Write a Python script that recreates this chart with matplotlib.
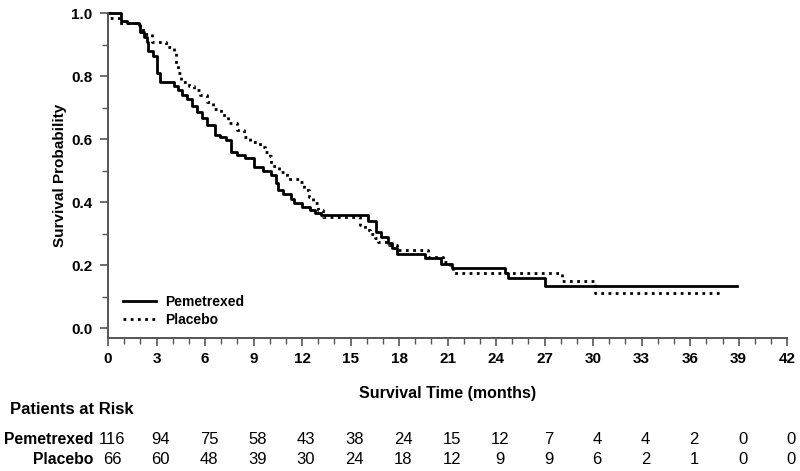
import matplotlib
matplotlib.use("Agg")
import matplotlib.pyplot as plt
from matplotlib.ticker import MultipleLocator

# Kaplan-Meier step data (time in months, survival after the step)
pem_t = [0, 0.8, 1.2, 1.9, 2.0, 2.2, 2.4, 2.5, 2.8, 3.05, 3.2, 4.1, 4.35, 4.55, 4.9,
         5.2, 5.5, 5.8, 6.1, 6.6, 6.9, 7.3, 7.6, 8.0, 8.5, 9.0, 9.6, 10.1, 10.4, 10.5,
         10.8, 11.3, 11.5, 12.0, 12.5, 12.8, 13.2, 16.1, 16.6, 16.9, 17.3, 17.55, 17.85,
         19.6, 20.6, 21.25, 24.55, 24.75, 27.0, 38.9]
pem_s = [1.0, 0.975, 0.968, 0.962, 0.94, 0.925, 0.91, 0.88, 0.865, 0.81, 0.78, 0.77, 0.755,
         0.74, 0.728, 0.705, 0.687, 0.666, 0.644, 0.613, 0.607, 0.597, 0.56, 0.549, 0.539,
         0.512, 0.50, 0.486, 0.46, 0.438, 0.425, 0.41, 0.396, 0.385, 0.375, 0.367, 0.359,
         0.34, 0.306, 0.288, 0.269, 0.253, 0.235, 0.224, 0.205, 0.191, 0.174, 0.158, 0.133,
         0.133]

pla_t = [0, 0.1, 0.7, 2.0, 2.15, 2.7, 3.6, 4.1, 4.2, 4.3, 4.5, 5.0, 5.3, 5.7, 6.1, 6.5,
         7.0, 7.45, 7.95, 8.4, 8.8, 9.4, 9.7, 10.0, 10.1, 10.6, 11.05, 11.8, 12.1, 12.4,
         12.7, 13.0, 13.3, 15.6, 15.9, 16.2, 16.5, 16.7, 17.4, 17.85, 19.8, 20.7, 21.15,
         21.35, 28.1, 30.1, 37.85]
pla_s = [1.0, 0.985, 0.97, 0.955, 0.935, 0.909, 0.893, 0.878, 0.84, 0.81, 0.78, 0.77, 0.756,
         0.74, 0.718, 0.697, 0.676, 0.65, 0.629, 0.607, 0.59, 0.575, 0.56, 0.545, 0.515,
         0.495, 0.475, 0.464, 0.438, 0.417, 0.396, 0.375, 0.353, 0.327, 0.311, 0.30, 0.285,
         0.274, 0.263, 0.248, 0.226, 0.21, 0.195, 0.174, 0.149, 0.11, 0.11]

risk_times = [0, 3, 6, 9, 12, 15, 18, 21, 24, 27, 30, 33, 36, 39, 42]
risk_pem = [116, 94, 75, 58, 43, 38, 24, 15, 12, 7, 4, 4, 2, 0, 0]
risk_pla = [66, 60, 48, 39, 30, 24, 18, 12, 9, 9, 6, 2, 1, 0, 0]

FONT = ['Liberation Sans Narrow', 'Liberation Sans', 'DejaVu Sans']
plt.rcParams['font.family'] = FONT

fig = plt.figure(figsize=(8, 4.71), dpi=100)
ax = fig.add_axes([0.135, 0.282, 0.849, 0.690])

ax.step(pem_t, pem_s, where='post', color='black', lw=2.0, label='Pemetrexed',
        clip_on=False)
ax.step(pla_t, pla_s, where='post', color='black', lw=2.0, linestyle=(0, (1, 1.6)),
        label='Placebo', clip_on=False)

ax.set_xlim(0, 42)
ax.set_ylim(-0.032, 1.0)
ax.xaxis.set_major_locator(MultipleLocator(3))
ax.xaxis.set_minor_locator(MultipleLocator(1))
ax.set_yticks([0.0, 0.2, 0.4, 0.6, 0.8, 1.0])
ax.set_yticklabels(['0.0', '0.2', '0.4', '0.6', '0.8', '1.0'])
ax.yaxis.set_minor_locator(MultipleLocator(0.1))

for s in ['top', 'right']:
    ax.spines[s].set_visible(False)
for s in ['left', 'bottom']:
    ax.spines[s].set_color('#555555')
    ax.spines[s].set_linewidth(1.4)
ax.spines['left'].set_bounds(-0.032, 1.0)

ax.tick_params(which='major', direction='out', length=6, width=1.2, color='#555555',
               labelsize=11)
ax.tick_params(which='minor', direction='out', length=4, width=1.0, color='#555555')
ax.tick_params(axis='x', pad=4)
ax.tick_params(axis='y', pad=5)
for lab in ax.get_xticklabels() + ax.get_yticklabels():
    lab.set_fontweight('bold')

ax.set_ylabel('Survival Probability', fontsize=11, fontweight='bold', labelpad=3)
ax.set_xlabel('Survival Time (months)', fontsize=11.5, fontweight='bold', labelpad=14)

leg = ax.legend(loc='lower left', bbox_to_anchor=(0.008, 0.005), frameon=False,
                handlelength=2.4, handletextpad=0.6, borderaxespad=0.3,
                labelspacing=0.25, prop={'weight': 'bold', 'size': 10, 'family': FONT})

# Patients at risk table
fig.text(10 / 800, 1 - 410 / 471, 'Patients at Risk', fontsize=12, fontweight='bold',
         ha='left', va='center')
row_y = [1 - 439 / 471, 1 - 460 / 471]
rows = [('Pemetrexed', risk_pem), ('Placebo', risk_pla)]
for (name, vals), yy in zip(rows, row_y):
    fig.text(93 / 800, yy, name, fontsize=11.3, fontweight='bold', ha='right', va='center')
    for t, v in zip(risk_times, vals):
        xd = ax.transData.transform((t, 0))[0]
        xf = fig.transFigure.inverted().transform((xd, 0))[0]
        fig.text(xf + 4 / 800, yy, str(v), fontsize=12, ha='center', va='center')

fig.savefig('out.png', dpi=100)
